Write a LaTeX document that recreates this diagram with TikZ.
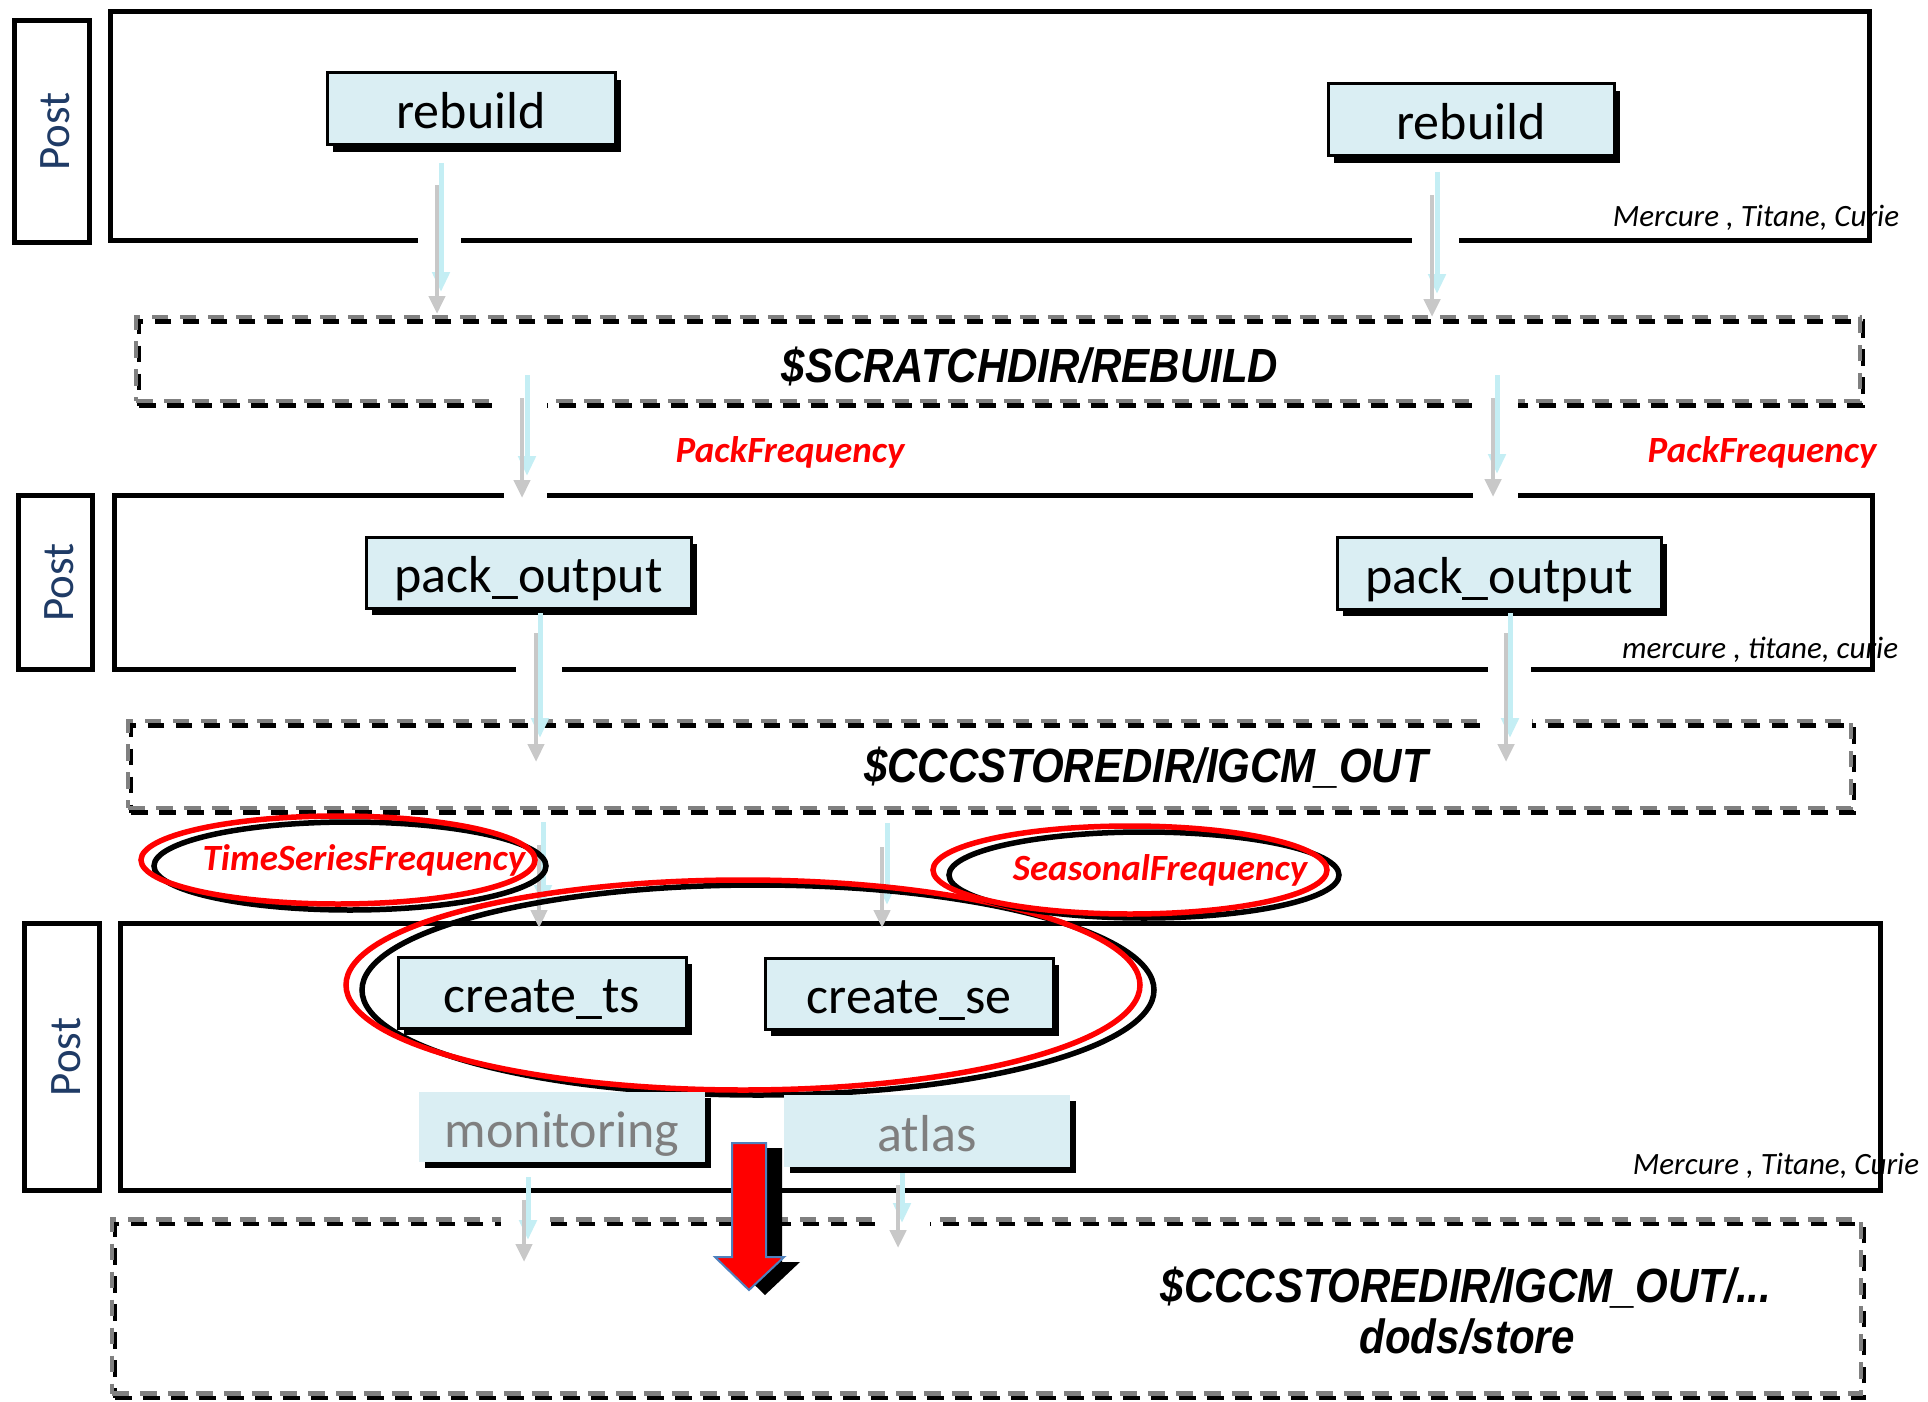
\documentclass[tikz,border=0pt]{standalone}
\usepackage{fontspec}
\usepackage{graphicx}
\setmainfont{Carlito}
\newfontfamily\arialfont{Liberation Sans}
\usetikzlibrary{arrows.meta,shadows}
\definecolor{boxblue}{HTML}{DAEEF3}
\definecolor{postblue}{HTML}{1F3B66}
\definecolor{arrcyan}{HTML}{C4EEF4}
\definecolor{arrgray}{HTML}{C8C8C8}
\definecolor{dashgray}{HTML}{808080}
\definecolor{outblue}{HTML}{4F81BD}
\definecolor{monogray}{HTML}{7F7F7F}
\newcommand\procfont{\fontsize{52}{60}\selectfont}
\newcommand\postfont{\fontsize{45}{54}\selectfont}
\newcommand\freqfont{\fontsize{37}{44}\selectfont\bfseries\itshape}
\newcommand\machfont{\fontsize{31}{38}\selectfont\itshape}
\newcommand\dirfont{\arialfont\fontsize{48}{56}\selectfont\bfseries\itshape}
\newcommand\dirtext[1]{\scalebox{0.875}[1]{#1}}
\begin{document}
\begin{tikzpicture}[x=1pt,y=-1pt,
  frame/.style={draw=black,line width=5pt,inner sep=0pt,outer sep=0pt},
  dashg/.style={draw=dashgray,line width=4.5pt,dash pattern=on 16.5pt off 11.5pt,inner sep=0pt,outer sep=0pt},
  dashk/.style={draw=black,line width=4.5pt,dash pattern=on 16.5pt off 11.5pt,inner sep=0pt,outer sep=0pt},
  procbox/.style={draw=black,line width=3pt,fill=boxblue,inner sep=0pt,text height=40pt,text depth=0pt,font=\procfont,
     general shadow={fill=black,shadow xshift=6pt,shadow yshift=-7pt}},
  ghostbox/.style={draw=none,fill=boxblue,inner sep=0pt,text height=40pt,text depth=0pt,font=\procfont,text=monogray,
     general shadow={fill=black,shadow xshift=6pt,shadow yshift=-6pt}},
  postlbl/.style={font=\postfont,text=postblue,rotate=90,inner sep=0pt},
  cyanarr/.style={draw=arrcyan,line width=5pt,-{Triangle[length=20pt,width=17pt]}},
  grayarr/.style={draw=arrgray,line width=4.5pt,-{Triangle[length=18pt,width=16pt]}},
  redring/.style={draw=red,line width=5.5pt},
  blackring/.style={draw=black,line width=5.5pt},
  gapfill/.style={fill=white},
  freqlbl/.style={font=\freqfont,text=red,inner sep=0pt,anchor=base},
  machlbl/.style={font=\machfont,inner sep=0pt,anchor=base},
  dirlbl/.style={font=\dirfont,inner sep=0pt,anchor=base}
]
\useasboundingbox (0,0) rectangle (1928,1402);

% ---------- frames ----------
\node[frame,minimum width=75pt,minimum height=221pt] (post1) at (51.5,131.5) {};
\node[frame,minimum width=1759pt,minimum height=228pt] (main1) at (989.5,126) {};
\node[frame,minimum width=74pt,minimum height=174pt] (post2) at (55.5,582.5) {};
\node[frame,minimum width=1758pt,minimum height=174pt] (main2) at (993,582.5) {};
\node[frame,minimum width=75pt,minimum height=267pt] (post3) at (62,1057) {};
\node[frame,minimum width=1760pt,minimum height=267pt] (main3) at (1000,1057) {};

% ---------- dashed storage boxes ----------
\node[dashk,minimum width=1724pt,minimum height=84pt] (dir1k) at (1001,363.5) {};
\node[dashg,minimum width=1724pt,minimum height=84pt] (dir1) at (998,359) {};
\node[dashk,minimum width=1723pt,minimum height=87pt] (dir2k) at (992.5,769) {};
\node[dashg,minimum width=1723pt,minimum height=87pt] (dir2) at (989.5,764.5) {};
\node[dashk,minimum width=1749pt,minimum height=174pt] (dir3k) at (989.5,1311) {};
\node[dashg,minimum width=1749pt,minimum height=174pt] (dir3) at (986.5,1306.5) {};

% ---------- gaps in borders ----------
\fill[gapfill] (418,235) rectangle (461,245);
\fill[gapfill] (1412,235) rectangle (1459,245);
\fill[gapfill] (498,395) rectangle (547,412);
\fill[gapfill] (1473,395) rectangle (1518,412);
\fill[gapfill] (504,491) rectangle (547,500);
\fill[gapfill] (1473,491) rectangle (1518,500);
\fill[gapfill] (516,665) rectangle (562,674);
\fill[gapfill] (1488,665) rectangle (1531,674);
\fill[gapfill] (1482,714) rectangle (1532,730);
\fill[gapfill] (501,1214) rectangle (550,1229);
\fill[gapfill] (878,1214) rectangle (930,1229);

% ---------- process boxes ----------
\node[procbox,minimum width=288pt,minimum height=72pt] (rebuildA) at (471,109) {rebuild};
\node[procbox,minimum width=286pt,minimum height=72pt] (rebuildB) at (1471,120) {rebuild};
\node[procbox,minimum width=325pt,minimum height=71pt] (packA) at (528.5,572.5) {pack\_output};
\node[procbox,minimum width=324pt,minimum height=72pt] (packB) at (1499,573) {pack\_output};
\node[procbox,minimum width=288pt,minimum height=71pt] (cts) at (542,992.5) {create\_ts};
\node[procbox,minimum width=288pt,minimum height=71pt] (cse) at (909,993.5) {create\_se};

% ---------- arrow end points ----------
\coordinate (c1s) at (441,163);  \coordinate (c1e) at (441,292);
\coordinate (g1s) at (437,185);  \coordinate (g1e) at (437,314);
\coordinate (c2s) at (1437,172); \coordinate (c2e) at (1437,294);
\coordinate (g2s) at (1432,195); \coordinate (g2e) at (1432,317);
\coordinate (c3s) at (527,375);  \coordinate (c3e) at (527,476);
\coordinate (g3s) at (522,398);  \coordinate (g3e) at (522,498);
\coordinate (c4s) at (1497,375); \coordinate (c4e) at (1497,474);
\coordinate (g4s) at (1493,398); \coordinate (g4e) at (1493,497);
\coordinate (c5s) at (540,613);  \coordinate (c5e) at (540,738);
\coordinate (g5s) at (536,633);  \coordinate (g5e) at (536,762);
\coordinate (c6s) at (1510,613); \coordinate (c6e) at (1510,738);
\coordinate (g6s) at (1506,633); \coordinate (g6e) at (1506,762);
\coordinate (c7s) at (543,822);  \coordinate (c7e) at (543,905);
\coordinate (g7s) at (539,845);  \coordinate (g7e) at (539,928);
\coordinate (c8s) at (887,823);  \coordinate (c8e) at (887,905);
\coordinate (g8s) at (882,847);  \coordinate (g8e) at (882,928);
\coordinate (c9s) at (528,1177); \coordinate (c9e) at (528,1240);
\coordinate (g9s) at (524,1200); \coordinate (g9e) at (524,1262);
\coordinate (c10s) at (902,1172); \coordinate (c10e) at (902,1223);
\coordinate (g10s) at (898,1185); \coordinate (g10e) at (898,1248);

\foreach \i in {1,...,10}{
  \draw[cyanarr] (c\i s) -- (c\i e);
  \draw[grayarr] (g\i s) -- (g\i e);
}

% ---------- rings ----------
\draw[blackring] (758,990) ellipse [x radius=396, y radius=105];
\draw[redring] (743,985) ellipse [x radius=397, y radius=105];
\draw[blackring] (350,866) ellipse [x radius=196, y radius=44];
\draw[redring] (338,860) ellipse [x radius=197, y radius=44];
\draw[blackring] (1144,875) ellipse [x radius=195, y radius=43];
\draw[redring] (1130,870) ellipse [x radius=197, y radius=44];

% ---------- labels ----------
\node[postlbl] (postt1) at (55.5,131.5) {Post};
\node[postlbl] (postt2) at (59.5,582.5) {Post};
\node[postlbl] (postt3) at (66,1057) {Post};

\node[machlbl] (mach1) at (1756,226) {Mercure , Titane, Curie};
\node[machlbl] (mach2) at (1760,658) {mercure , titane, curie};
\node[machlbl] (mach3) at (1776,1174) {Mercure , Titane, Curie};

\node[freqlbl] (packfA) at (790,462) {PackFrequency};
\node[freqlbl] (packfB) at (1762,462) {PackFrequency};
\node[freqlbl] (tsf) at (364,870) {TimeSeriesFrequency};
\node[freqlbl] (sef) at (1160,880) {SeasonalFrequency};

\node[dirlbl] (dirt1) at (1030,382) {\dirtext{\$SCRATCHDIR/REBUILD}};
\node[dirlbl] (dirt2) at (1146,782) {\dirtext{\$CCCSTOREDIR/IGCM\_OUT}};
\node[dirlbl] (dirt3) at (1466,1302) {\dirtext{\$CCCSTOREDIR/IGCM\_OUT/...}};
\node[dirlbl] (dirt4) at (1467,1353) {\dirtext{dods/store}};

% ---------- secondary boxes ----------
\node[ghostbox,minimum width=286pt,minimum height=70pt] (monit) at (562,1127) {monitoring};
\node[ghostbox,minimum width=286pt,minimum height=72pt] (atlas) at (927,1131) {atlas};

% ---------- big red arrow ----------
\fill[black] (748,1148) -- (782,1148) -- (782,1262) -- (800,1262) -- (765,1295) -- (731,1262) -- (748,1262) -- cycle;
\filldraw[fill=red,draw=outblue,line width=2pt] (732,1143) -- (766,1143) -- (766,1257) -- (784,1257) -- (749,1290) -- (715,1257) -- (732,1257) -- cycle;
\end{tikzpicture}
\end{document}
